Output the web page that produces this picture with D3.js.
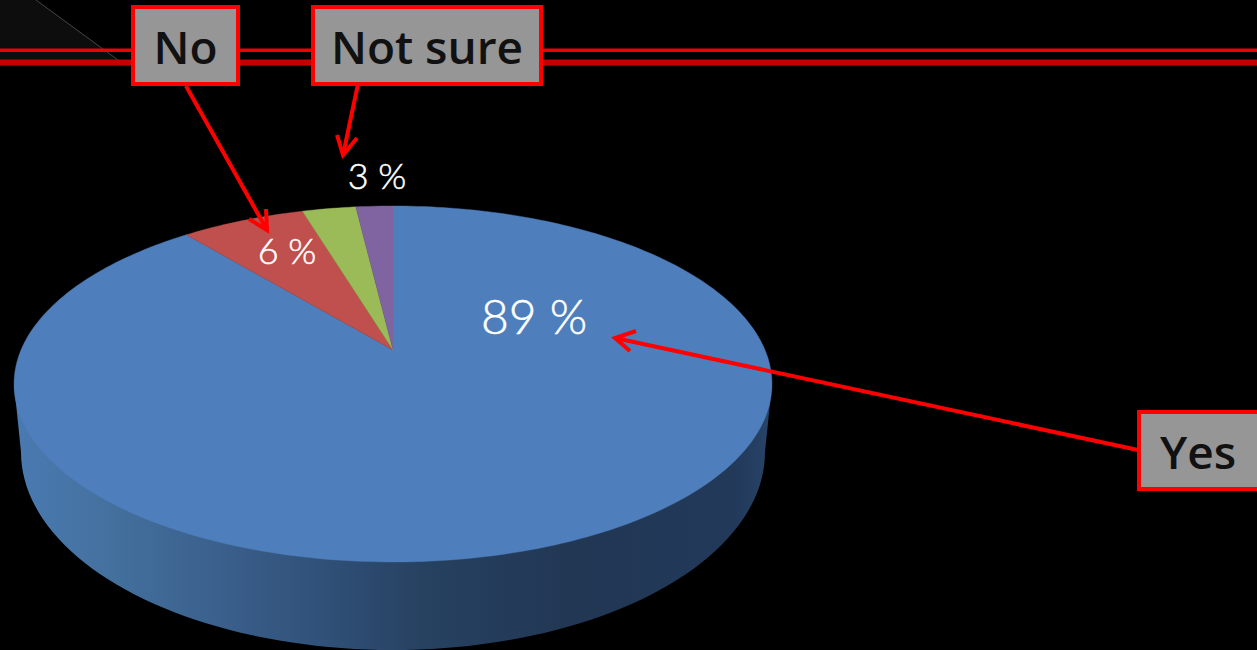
<!DOCTYPE html>
<html><head><meta charset="utf-8">
<script src="https://cdn.jsdelivr.net/npm/d3@7"></script>
<style>html,body{margin:0;padding:0;background:#000;overflow:hidden}svg{display:block}</style>
</head><body><div id="c"></div>
<script>
// Data
const categories = ["Yes", "No", "Not sure", "Unlabelled"];
const values = [89, 6.35, 2.75, 1.9];
const valueLabels = ["89 %", "6 %", "3 %"];
const sliceColors = ["#4e7fbc", "#c0504d", "#9bbb59", "#8064a2"];

// Layout
const W = 1257, H = 650;
const svg = d3.select("#c").append("svg").attr("width", W).attr("height", H);
const defs = svg.append("defs");
svg.append("rect").attr("width", W).attr("height", H).attr("fill", "#000");

// Slide decoration
svg.append("path").attr("d", "M0,0H36L118,60H0Z").attr("fill", "#0d0d0d");
svg.append("path").attr("d", "M36,0L118,60").attr("stroke", "#555").attr("stroke-width", 0.8).attr("fill", "none");
svg.append("rect").attr("x", 0).attr("y", 48.5).attr("width", W).attr("height", 3.5).attr("fill", "#f00000");
svg.append("rect").attr("x", 0).attr("y", 59.5).attr("width", W).attr("height", 6).attr("fill", "#c40000");

// Perspective disc: a unit circle projected on to the slide
const k = 0.191;
const xS = d3.scaleLinear().domain([-1, 1]).range([393 - 372, 393 + 372]);
const yS = d3.scaleLinear().domain([-1, 1]).range([350 + 171.5, 350 - 171.5]);
const project = a => {            // a: clockwise angle from 12 o'clock
  const u = Math.sin(a), v = Math.cos(a), w = 1 + k * v;
  return [xS(u / w), yS(v / w)];
};
const line = d3.line();

// Side wall
const wallGrad = defs.append("linearGradient").attr("id", "wall")
  .attr("gradientUnits", "userSpaceOnUse").attr("x1", 14).attr("x2", 772).attr("y1", 0).attr("y2", 0);
[[0, "#4a7ab2"], [0.12, "#44719f"], [0.25, "#3c628f"], [0.42, "#2f4f76"], [0.55, "#26405f"],
 [0.75, "#213754"], [0.95, "#22395a"], [1, "#274468"]].forEach(s =>
  wallGrad.append("stop").attr("offset", s[0]).attr("stop-color", s[1]));
const wallX = d3.scaleLinear().domain([-1, 1]).range([393 - 372, 393 + 372]);
const wallY = d3.scaleLinear().domain([-1, 1]).range([452 + 198, 452 - 198]);
const wallPts = [[14, 384]];
d3.range(0, 181, 2).forEach(d => {
  const t = Math.PI - d * Math.PI / 180;
  wallPts.push([wallX(Math.cos(t)), wallY(-Math.sin(t))]);
});
wallPts.push([772, 384]);
svg.append("path").attr("d", line(wallPts) + "Z").attr("fill", "url(#wall)");

// Top face
const arcs = d3.pie().sort(null)(values);
svg.append("g").selectAll("path").data(arcs).join("path")
  .attr("d", d => {
    const n = Math.max(4, Math.ceil((d.endAngle - d.startAngle) / 0.02));
    const pts = [[xS(0), yS(0)]];
    d3.range(n + 1).forEach(i => pts.push(project(d.startAngle + (d.endAngle - d.startAngle) * i / n)));
    return line(pts) + "Z";
  })
  .attr("fill", (d, i) => sliceColors[i])
  .attr("stroke", (d, i) => sliceColors[i]).attr("stroke-width", 0.4);

// Value labels
const labelPos = [[534, 334, 48], [287, 264, 36], [377, 189, 36]];
svg.append("g").selectAll("text").data(valueLabels).join("text")
  .attr("x", (d, i) => labelPos[i][0]).attr("y", (d, i) => labelPos[i][1])
  .attr("font-size", (d, i) => labelPos[i][2])
  .attr("text-anchor", "middle").attr("fill", "#fff").attr("stroke", "#fff").attr("stroke-width", 0.5)
  .attr("font-family", "Lato, 'Open Sans', sans-serif").attr("font-weight", 300)
  .text(d => d);

// Arrows
const arrows = [
  { from: [186, 86], to: [267, 230], barbs: [[249, 219], [266, 209]] },
  { from: [358, 84], to: [343, 155], barbs: [[337, 135], [357, 138]] },
  { from: [1138, 450], to: [615, 338], barbs: [[636, 331], [630, 351]] }
];
const ag = svg.append("g").attr("fill", "none").attr("stroke", "#f00").attr("stroke-width", 4);
arrows.forEach(a => {
  ag.append("path").attr("d", line([a.from, a.to]));
  ag.append("path").attr("d", line([a.barbs[0], a.to, a.barbs[1]]));
});

// Callout boxes
const boxes = [
  { text: categories[1], x: 133, y: 7, w: 105, h: 77 },
  { text: categories[2], x: 313, y: 7, w: 228, h: 77 },
  { text: categories[0], x: 1139, y: 412, w: 120, h: 77 }
];
const bg = svg.append("g").selectAll("g").data(boxes).join("g");
bg.append("rect").attr("x", d => d.x).attr("y", d => d.y).attr("width", d => d.w).attr("height", d => d.h)
  .attr("fill", "#969696").attr("stroke", "#f00").attr("stroke-width", 4);
bg.append("text").attr("x", d => d.text === "Yes" ? 1198 : d.x + d.w / 2).attr("y", d => d.y + 57)
  .attr("text-anchor", "middle").attr("fill", "#111")
  .attr("font-family", "'Open Sans', sans-serif").attr("font-weight", 600).attr("font-size", 46)
  .text(d => d.text);
</script></body></html>
